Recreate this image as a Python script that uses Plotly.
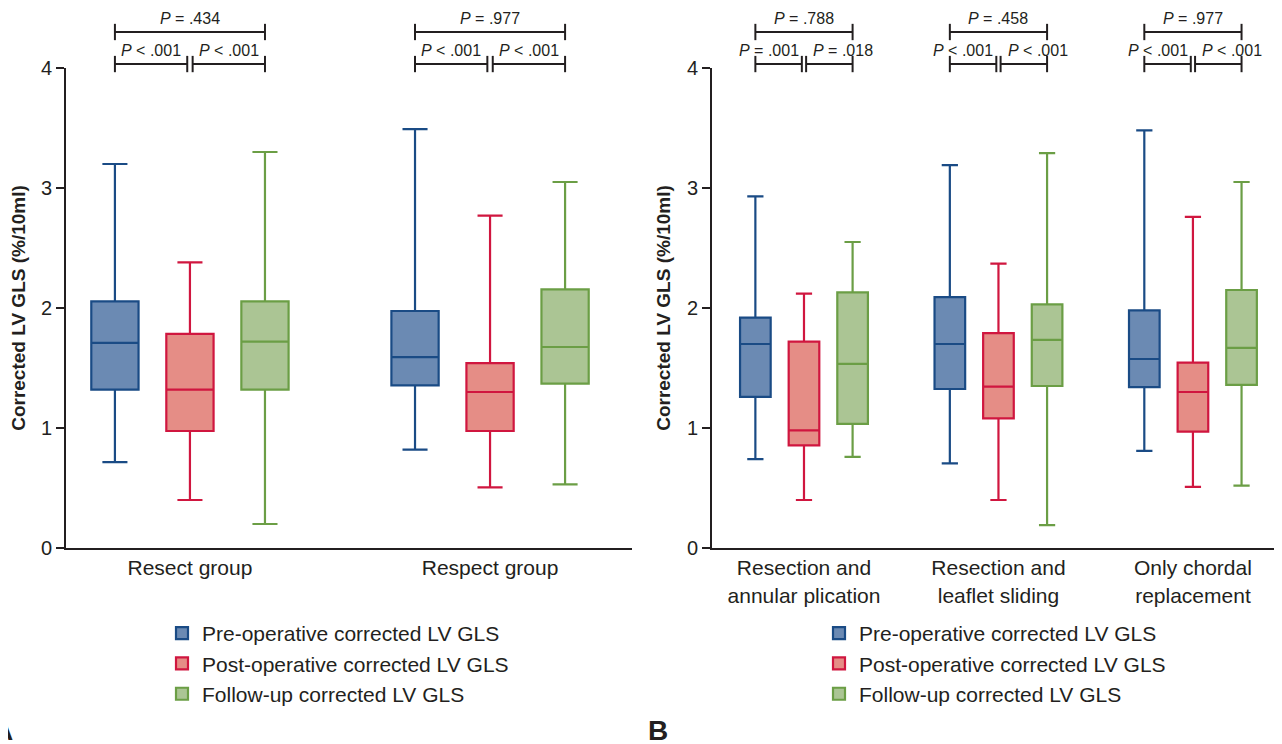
import plotly.graph_objects as go

# ---------------- data ----------------
cats_a = ["Resect group", "Respect group"]
cats_b = ["Resection and<br>annular plication", "Resection and<br>leaflet sliding", "Only chordal<br>replacement"]
series_names = ["Pre-operative corrected LV GLS", "Post-operative corrected LV GLS", "Follow-up corrected LV GLS"]

# Panel A (per category: Resect, Respect)
pre_a = dict(low=[0.715, 0.82], q1=[1.32, 1.355], med=[1.71, 1.59], q3=[2.055, 1.975], high=[3.20, 3.49])
post_a = dict(low=[0.40, 0.505], q1=[0.975, 0.975], med=[1.32, 1.30], q3=[1.785, 1.54], high=[2.38, 2.77])
fu_a = dict(low=[0.20, 0.53], q1=[1.32, 1.37], med=[1.72, 1.675], q3=[2.055, 2.155], high=[3.30, 3.05])

# Panel B (per category: annular plication, leaflet sliding, chordal replacement)
pre_b = dict(low=[0.74, 0.705, 0.81], q1=[1.26, 1.325, 1.34], med=[1.70, 1.70, 1.575], q3=[1.92, 2.09, 1.98], high=[2.93, 3.19, 3.48])
post_b = dict(low=[0.40, 0.40, 0.51], q1=[0.855, 1.08, 0.97], med=[0.98, 1.345, 1.30], q3=[1.72, 1.79, 1.545], high=[2.12, 2.37, 2.76])
fu_b = dict(low=[0.76, 0.19, 0.52], q1=[1.035, 1.35, 1.36], med=[1.535, 1.735, 1.667], q3=[2.13, 2.03, 2.15], high=[2.55, 3.29, 3.05])

# P values: (pre vs follow-up, pre vs post, post vs follow-up)
p_a = [("= .434", "< .001", "< .001"), ("= .977", "< .001", "< .001")]
p_b = [("= .788", "= .001", "= .018"), ("= .458", "< .001", "< .001"), ("= .977", "< .001", "< .001")]

y_ticks = [0, 1, 2, 3, 4]

# ---------------- style ----------------
W, H = 1274, 736          # page body has an 8px margin in the 1282x744 window
OFF = 8
fills = ["#6b8ab3", "#e58d86", "#abc594"]
lines = ["#1a4b85", "#d0163f", "#6b9e45"]
FONT = "Liberation Sans, Arial, sans-serif"
INK = "#231f20"
Y_RANGE = [0, 4]
BOX_OFFSET = 0.25  # = (1 - boxgap) / 3

def fx(px):
    return (px - OFF) / W

def fy(py):
    return (H - (py - OFF)) / H

fig = go.Figure()

def add_panel(cats, stats, xaxis, yaxis, legend):
    for i, st in enumerate(stats):
        fig.add_trace(go.Box(
            x=cats, q1=st["q1"], median=st["med"], q3=st["q3"],
            lowerfence=st["low"], upperfence=st["high"],
            name=series_names[i], fillcolor=fills[i],
            line=dict(color=lines[i], width=2.2), whiskerwidth=0.53,
            boxpoints=False, xaxis=xaxis, yaxis=yaxis, legend=legend,
            legendgroup=legend + str(i), offsetgroup=str(i), hoverinfo="skip",
        ))

add_panel(cats_a, [pre_a, post_a, fu_a], "x", "y", "legend")
add_panel(cats_b, [pre_b, post_b, fu_b], "x2", "y2", "legend2")

# ---------------- significance brackets ----------------
shapes = []
annotations = []

def ydom(v):
    return (v - Y_RANGE[0]) / (Y_RANGE[1] - Y_RANGE[0])

def bracket(xref, yref, x0, x1, yv, text, anchor="center", tick=0.068):
    ln = dict(color=INK, width=2)
    yd = ydom(yv)
    td = ydom(yv + tick) - yd
    shapes.append(dict(type="line", xref=xref, yref=yref, x0=x0, x1=x1, y0=yd, y1=yd, line=ln))
    for xx in (x0, x1):
        shapes.append(dict(type="line", xref=xref, yref=yref, x0=xx, x1=xx, y0=yd - td, y1=yd + td, line=ln))
    if anchor == "center":
        xt, xs = (x0 + x1) / 2, 0
    elif anchor == "right":
        xt, xs = x1, -1
    else:
        xt, xs = x0, 5
    annotations.append(dict(xref=xref, yref=yref, x=xt, y=yd, xanchor=anchor, yanchor="bottom",
                            xshift=xs, yshift=3, showarrow=False, text="<i>P</i> " + text,
                            font=dict(family=FONT, size=16, color=INK)))

def panel_brackets(pvals, xref, yref, gap, outward):
    for i, (pt, pl, pr) in enumerate(pvals):
        bracket(xref, yref + " domain", i - BOX_OFFSET, i + BOX_OFFSET, 4.30, pt)
        bracket(xref, yref + " domain", i - BOX_OFFSET, i - gap, 4.033, pl,
                anchor="right" if outward else "center")
        bracket(xref, yref + " domain", i + gap, i + BOX_OFFSET, 4.033, pr,
                anchor="left" if outward else "center")

panel_brackets(p_a, "x", "y", 0.009, False)
panel_brackets(p_b, "x2", "y2", 0.011, True)

annotations.append(dict(xref="paper", yref="paper", x=fx(15), y=0, xanchor="right", yanchor="bottom",
                        yshift=-4, showarrow=False, text="<b>A</b>", font=dict(family=FONT, size=28, color=INK)))
annotations.append(dict(xref="paper", yref="paper", x=fx(646), y=0, xanchor="left", yanchor="bottom",
                        yshift=-4, showarrow=False, text="<b>B</b>", font=dict(family=FONT, size=28, color=INK)))

# ---------------- axes ----------------
ydom_px = [fy(548), fy(68)]

yaxis_common = dict(
    range=Y_RANGE, tickvals=y_ticks, ticks="outside", ticklen=8, tickwidth=2, tickcolor=INK,
    showline=True, linewidth=2, linecolor=INK, showgrid=False, zeroline=False,
    tickfont=dict(family=FONT, size=20, color=INK),
    title=dict(text="<b>Corrected LV GLS (%/10ml)</b>", font=dict(family=FONT, size=19, color=INK), standoff=11),
    domain=ydom_px, automargin=False, fixedrange=True,
)
xaxis_common = dict(
    showline=True, linewidth=2, linecolor=INK, showgrid=False, zeroline=False, ticks="",
    tickfont=dict(family=FONT, size=21, color=INK), automargin=False, fixedrange=True, type="category",
)

legend_font = dict(family=FONT, size=21, color=INK)

fig.update_layout(
    width=W, height=H,
    margin=dict(l=0, r=0, t=0, b=0),
    paper_bgcolor="white", plot_bgcolor="white",
    boxmode="group", boxgap=0.25, boxgroupgap=0.37,
    xaxis=dict(**xaxis_common, domain=[fx(66), fx(632)], range=[-0.413, 1.473], anchor="y"),
    yaxis=dict(**yaxis_common, anchor="x"),
    xaxis2=dict(**xaxis_common, domain=[fx(712), 1.0], range=[-0.473, 2.458], anchor="y2"),
    yaxis2=dict(**yaxis_common, anchor="x2"),
    legend=dict(x=fx(162), y=fy(613), xanchor="left", yanchor="top",
                font=legend_font, tracegroupgap=0, bgcolor="rgba(0,0,0,0)"),
    legend2=dict(x=fx(819), y=fy(613), xanchor="left", yanchor="top",
                 font=legend_font, tracegroupgap=0, bgcolor="rgba(0,0,0,0)"),
    shapes=shapes, annotations=annotations,
    font=dict(family=FONT, color=INK),
)

fig.write_html("out.html")
